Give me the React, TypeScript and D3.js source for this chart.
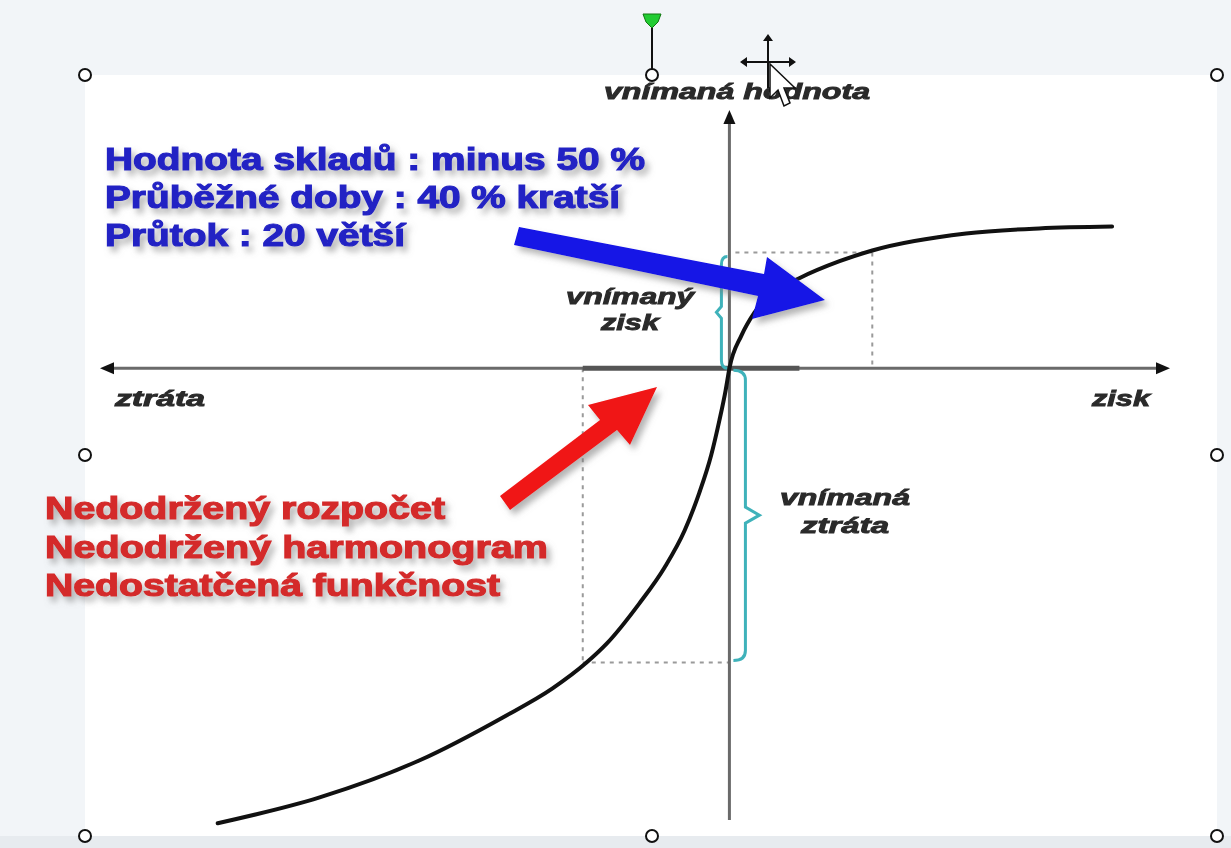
import React, { useEffect, useRef } from 'react';
import * as d3 from 'd3';

// value function (x = objective outcome, y = perceived value)
const lossCurve: [number, number][] = [
  [-8.13, -7.22], [-6.51, -6.81], [-4.92, -6.22], [-3.6, -5.54], [-2.81, -5.08],
  [-2.27, -4.67], [-1.95, -4.37], [-1.43, -3.73], [-1.03, -3.16], [-0.71, -2.57],
  [-0.48, -1.98], [-0.29, -1.38], [-0.16, -0.83], [-0.06, -0.35], [0, 0],
];
const gainCurve: [number, number][] = [
  [0, 0], [0.19, 0.52], [0.4, 0.89], [0.71, 1.21], [1.11, 1.43], [1.75, 1.7],
  [2.27, 1.87], [3.76, 2.14], [4.92, 2.22], [6.08, 2.25],
];
const gainRef = { x: 2.27, y: 1.84 };
const lossRef = { x: -2.33, y: -4.67 };

const blueLines = ['Hodnota skladů : minus  50 %', 'Průběžné doby : 40 % kratší', 'Průtok : 20 větší'];
const redLines = ['Nedodržený rozpočet', 'Nedodržený harmonogram', 'Nedostatčená funkčnost'];
const axisLabels = { top: 'vnímaná hodnota', left: 'ztráta', right: 'zisk' };
const gainLabel = ['vnímaný', 'zisk'];
const lossLabel = ['vnímaná', 'ztráta'];

const W = 1231;
const H = 848;

export default function App() {
  const ref = useRef<SVGSVGElement>(null);

  useEffect(() => {
    const svg = d3.select(ref.current);
    svg.selectAll('*').remove();

    const x = d3.scaleLinear().domain([-10, 7]).range([100, 1170]);
    const y = d3.scaleLinear().domain([-7.2, 4.1]).range([822, 110]);
    const x0 = x(0);
    const y0 = y(0);

    const defs = svg.append('defs');
    const shadow = defs.append('filter').attr('id', 'shadow')
      .attr('x', '-20%').attr('y', '-40%').attr('width', '140%').attr('height', '180%');
    shadow.append('feDropShadow').attr('dx', 4).attr('dy', 5).attr('stdDeviation', 3)
      .attr('flood-color', '#777').attr('flood-opacity', 0.55);
    const soft = defs.append('filter').attr('id', 'soft');
    soft.append('feGaussianBlur').attr('stdDeviation', 0.4);

    // slide background + picture frame
    svg.append('rect').attr('width', W).attr('height', H).attr('fill', '#f2f5f8');
    svg.append('rect').attr('x', 0).attr('y', 836).attr('width', W).attr('height', 12).attr('fill', '#e7ebef');
    svg.append('rect').attr('x', 85).attr('y', 75).attr('width', 1132).attr('height', 761).attr('fill', '#ffffff');

    // dashed guides
    const dash = svg.append('g').attr('stroke', '#9a9a9a').attr('stroke-width', 2)
      .attr('stroke-dasharray', '4,5').attr('fill', 'none');
    dash.append('line').attr('x1', x0 + 6).attr('x2', x(gainRef.x)).attr('y1', y(gainRef.y)).attr('y2', y(gainRef.y));
    dash.append('line').attr('x1', x(gainRef.x)).attr('x2', x(gainRef.x)).attr('y1', y(gainRef.y)).attr('y2', y0);
    dash.append('line').attr('x1', x(lossRef.x)).attr('x2', x(lossRef.x)).attr('y1', y0).attr('y2', y(lossRef.y));
    dash.append('line').attr('x1', x(lossRef.x)).attr('x2', x0).attr('y1', y(lossRef.y)).attr('y2', y(lossRef.y));

    // axes
    const axis = svg.append('g').attr('stroke', '#6a6a6a').attr('stroke-width', 3);
    axis.append('line').attr('x1', x(-10) + 10).attr('x2', x(7) - 10).attr('y1', y0).attr('y2', y0);
    axis.append('line').attr('x1', x0).attr('x2', x0).attr('y1', y(4.1) + 10).attr('y2', 820);
    axis.append('line').attr('x1', x(lossRef.x)).attr('x2', x0 + 70).attr('y1', y0).attr('y2', y0)
      .attr('stroke', '#555').attr('stroke-width', 5);
    const heads = svg.append('g').attr('fill', '#111');
    heads.append('path').attr('d', `M${x(-10)},${y0} l14,-6 l0,12 z`);
    heads.append('path').attr('d', `M${x(7)},${y0} l-14,-6 l0,12 z`);
    heads.append('path').attr('d', `M${x0},${y(4.1)} l-6,14 l12,0 z`);

    // braces
    const brace = svg.append('g').attr('stroke', '#3fb2ba').attr('stroke-width', 3).attr('fill', 'none');
    const gt = y(gainRef.y) + 4;
    brace.append('path').attr('d',
      `M${x0 - 2},${gt} q-6,0 -6,8 L${x0 - 8},${(gt + y0) / 2 - 6} l-5,6 l5,6 L${x0 - 8},${y0 - 8} q0,8 6,8`);
    const lb = y(lossRef.y);
    const mid = y(-2.33);
    brace.append('path').attr('d',
      `M${x0 + 4},${y0 + 2} q12,0 12,10 L${x0 + 16},${mid - 8} l14,8 l-14,8 L${x0 + 16},${lb - 12} q0,10 -12,10`);

    // curve
    const line = d3.line<[number, number]>().x(d => x(d[0])).y(d => y(d[1])).curve(d3.curveMonotoneX);
    svg.append('path').datum(lossCurve.concat(gainCurve.slice(1)))
      .attr('d', line).attr('fill', 'none').attr('stroke', '#111').attr('stroke-width', 4)
      .attr('stroke-linecap', 'round');

    // italic labels
    const lab = svg.append('g').attr('font-family', 'Liberation Sans, Arial, sans-serif')
      .attr('font-style', 'italic').attr('font-weight', 'bold').attr('fill', '#2a2a2a')
      .attr('stroke', '#2a2a2a').attr('stroke-width', 0.9)
      .attr('font-size', 22).attr('text-anchor', 'middle').attr('filter', 'url(#soft)');
    const label = (t: string, cx: number, cy: number, w: number) =>
      lab.append('text').attr('x', cx).attr('y', cy).attr('textLength', w)
        .attr('lengthAdjust', 'spacingAndGlyphs').text(t);
    label(axisLabels.top, 737, 99, 266);
    label(axisLabels.left, 160, 406, 90);
    label(axisLabels.right, 1121, 406, 58);
    label(gainLabel[0], 630, 304, 128);
    label(gainLabel[1], 630, 330, 58);
    label(lossLabel[0], 845, 505, 130);
    label(lossLabel[1], 845, 533, 88);

    // arrows
    svg.append('path').attr('filter', 'url(#shadow)').attr('fill', '#1212e6')
      .attr('d', 'M519,227 L764,274 L767,257 L825,300 L752,319 L758,296 L514,245 Z');
    svg.append('path').attr('filter', 'url(#shadow)').attr('fill', '#f01414')
      .attr('d', 'M500,496 L600,420 L588,405 L657,387 L630,445 L617,430 L510,510 Z');

    // callout text
    const blueW = [540, 515, 300];
    const blue = svg.append('g').attr('font-family', 'Liberation Sans, Arial, sans-serif')
      .attr('font-weight', 'bold').attr('font-size', 32).attr('fill', '#2424c4')
      .attr('stroke', '#2424c4').attr('stroke-width', 1.2).attr('filter', 'url(#shadow)');
    blueLines.forEach((t, i) => {
      blue.append('text').attr('x', 105).attr('y', 170 + i * 38)
        .attr('textLength', blueW[i]).attr('lengthAdjust', 'spacingAndGlyphs').text(t);
    });
    const redW = [400, 503, 455];
    const red = svg.append('g').attr('font-family', 'Liberation Sans, Arial, sans-serif')
      .attr('font-weight', 'bold').attr('font-size', 32).attr('fill', '#d42a2a')
      .attr('stroke', '#d42a2a').attr('stroke-width', 1.2).attr('filter', 'url(#shadow)');
    redLines.forEach((t, i) => {
      red.append('text').attr('x', 45).attr('y', 519 + i * 38.5)
        .attr('textLength', redW[i]).attr('lengthAdjust', 'spacingAndGlyphs').text(t);
    });

    // selection handles
    svg.append('line').attr('x1', 652).attr('x2', 652).attr('y1', 20).attr('y2', 69)
      .attr('stroke', '#111').attr('stroke-width', 2);
    svg.append('path').attr('d', 'M643,14 L661,14 L658,22 L652,28 L646,22 Z').attr('fill', '#22cc33').attr('stroke', '#117711');
    const handles: [number, number][] = [[85, 75], [652, 75], [1217, 75], [85, 455], [1217, 455], [85, 836], [652, 836], [1217, 836]];
    svg.append('g').selectAll('circle').data(handles).enter().append('circle')
      .attr('cx', d => d[0]).attr('cy', d => d[1]).attr('r', 6)
      .attr('fill', '#fff').attr('stroke', '#111').attr('stroke-width', 2);

    // move cursor
    const cur = svg.append('g').attr('transform', 'translate(768,62)');
    cur.append('path').attr('d', 'M0,-26 L0,26 M-26,0 L26,0').attr('stroke', '#111').attr('stroke-width', 2);
    cur.append('path').attr('fill', '#111')
      .attr('d', 'M0,-28 l-5,7 l10,0 z M-28,0 l7,-5 l0,10 z M28,0 l-7,-5 l0,10 z');
    cur.append('path').attr('fill', '#fff').attr('stroke', '#111').attr('stroke-width', 1.5)
      .attr('d', 'M2,2 L2,36 L10,28 L16,44 L22,41 L16,26 L27,26 Z');
  }, []);

  return (
    <svg ref={ref} width={W} height={H} style={{ position: 'absolute', left: 0, top: 0 }} />
  );
}
